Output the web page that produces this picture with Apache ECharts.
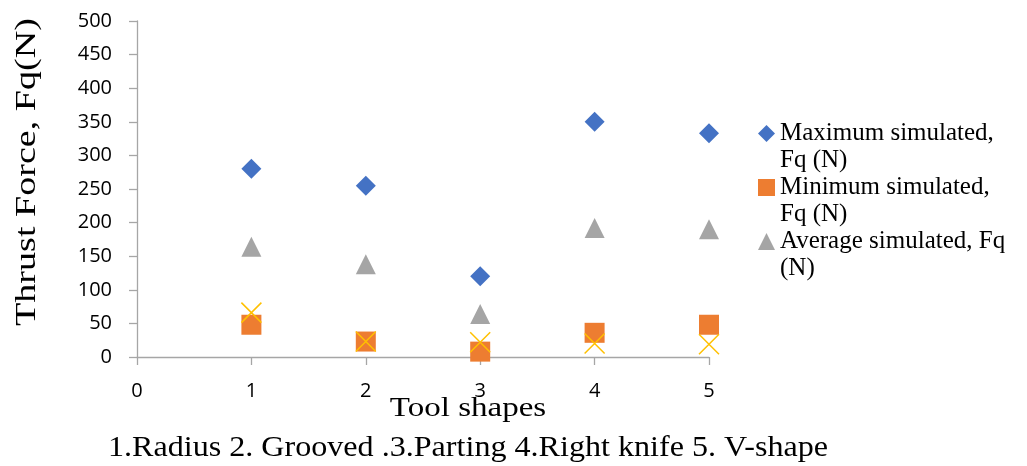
<!DOCTYPE html>
<html><head><meta charset="utf-8">
<script src="https://cdn.jsdelivr.net/npm/echarts@6/dist/echarts.min.js"></script>
<style>html,body{margin:0;padding:0;background:#fff}#c{width:1027px;height:466px}</style>
</head><body><div id="c"></div>
<script>
const shapes = [1, 2, 3, 4, 5];
const maxSim = [280, 255, 120, 350, 333];
const minSim = [48, 23, 8, 36, 48];
const avgSim = [164, 138, 64, 192, 190];
const measured = [66, 23, 22, 20, 19];
const seriesNames = ['Maximum simulated, Fq (N)', 'Minimum simulated, Fq (N)', 'Average simulated, Fq (N)', 'Measured'];
const legendLabels = ['Maximum simulated,\nFq (N)', 'Minimum simulated,\nFq (N)', 'Average simulated, Fq\n(N)'];
const xTitle = 'Tool shapes';
const yTitle = 'Thrust Force, Fq(N)';
const subTitle = '1.Radius 2. Grooved .3.Parting 4.Right knife 5. V-shape';

const pair = arr => arr.map((v, i) => [shapes[i], v]);
const chart = echarts.init(document.getElementById('c'));
const legendText = {fontFamily: 'Liberation Serif', fontSize: 25, color: '#000', lineHeight: 27};
const mkLegend = (i, top) => ({
  data: [seriesNames[i]], left: 758, top: top, orient: 'vertical', itemWidth: 17, itemHeight: 17, itemGap: 0,
  formatter: () => '\n' + legendLabels[i], textStyle: legendText, selectedMode: false, padding: 0
});
const serif = 'Liberation Serif';
const tickFont = {fontFamily: 'Open Sans', fontSize: 20, color: '#000', margin: 25};
chart.setOption({
  animation: false,
  grid: {left: 137, top: 21, right: 318, bottom: 109},
  xAxis: {
    type: 'value', min: 0, max: 5, interval: 1,
    axisLine: {onZero: false, lineStyle: {color: '#a6a6a6', width: 1.3}},
    axisTick: {show: true, length: 8, lineStyle: {color: '#a6a6a6', width: 1.3}},
    splitLine: {show: false},
    axisLabel: Object.assign({}, tickFont, {margin: 24})
  },
  yAxis: {
    type: 'value', min: 0, max: 500, interval: 50,
    axisLine: {show: true, lineStyle: {color: '#a6a6a6', width: 1.3}},
    axisTick: {show: true, length: 8, lineStyle: {color: '#a6a6a6', width: 1.3}},
    splitLine: {show: false},
    axisLabel: tickFont
  },
  legend: [mkLegend(0, 93), mkLegend(1, 147), mkLegend(2, 201)],
  graphic: [
    {type: 'text', x: 468, y: 409, scaleX: 1.18, silent: true,
     style: {text: xTitle, fontFamily: serif, fontSize: 28, fill: '#000', align: 'center', verticalAlign: 'middle'}},
    {type: 'text', x: 468, y: 448, scaleX: 1.07, silent: true,
     style: {text: subTitle, fontFamily: serif, fontSize: 30, fill: '#000', align: 'center', verticalAlign: 'middle'}},
    {type: 'text', x: 27, y: 172, rotation: Math.PI / 2, scaleX: 1.27, silent: true,
     style: {text: yTitle, fontFamily: serif, fontSize: 30, fill: '#000', align: 'center', verticalAlign: 'middle'}}
  ],
  series: [
    {name: seriesNames[0], type: 'scatter', symbol: 'diamond', symbolSize: 20, data: pair(maxSim), itemStyle: {color: '#4472C4', opacity: 1}},
    {name: seriesNames[1], type: 'scatter', symbol: 'rect', symbolSize: 20, data: pair(minSim), itemStyle: {color: '#ED7D31', opacity: 1}},
    {name: seriesNames[2], type: 'scatter', symbol: 'triangle', symbolSize: 20, data: pair(avgSim), itemStyle: {color: '#A5A5A5', opacity: 1}},
    {name: seriesNames[3], type: 'scatter', symbol: 'path://M0,0L10,10M10,0L0,10', symbolSize: 20, data: pair(measured),
     itemStyle: {color: 'none', borderColor: '#FFC000', borderWidth: 1.5, opacity: 1}}
  ]
});
</script></body></html>
